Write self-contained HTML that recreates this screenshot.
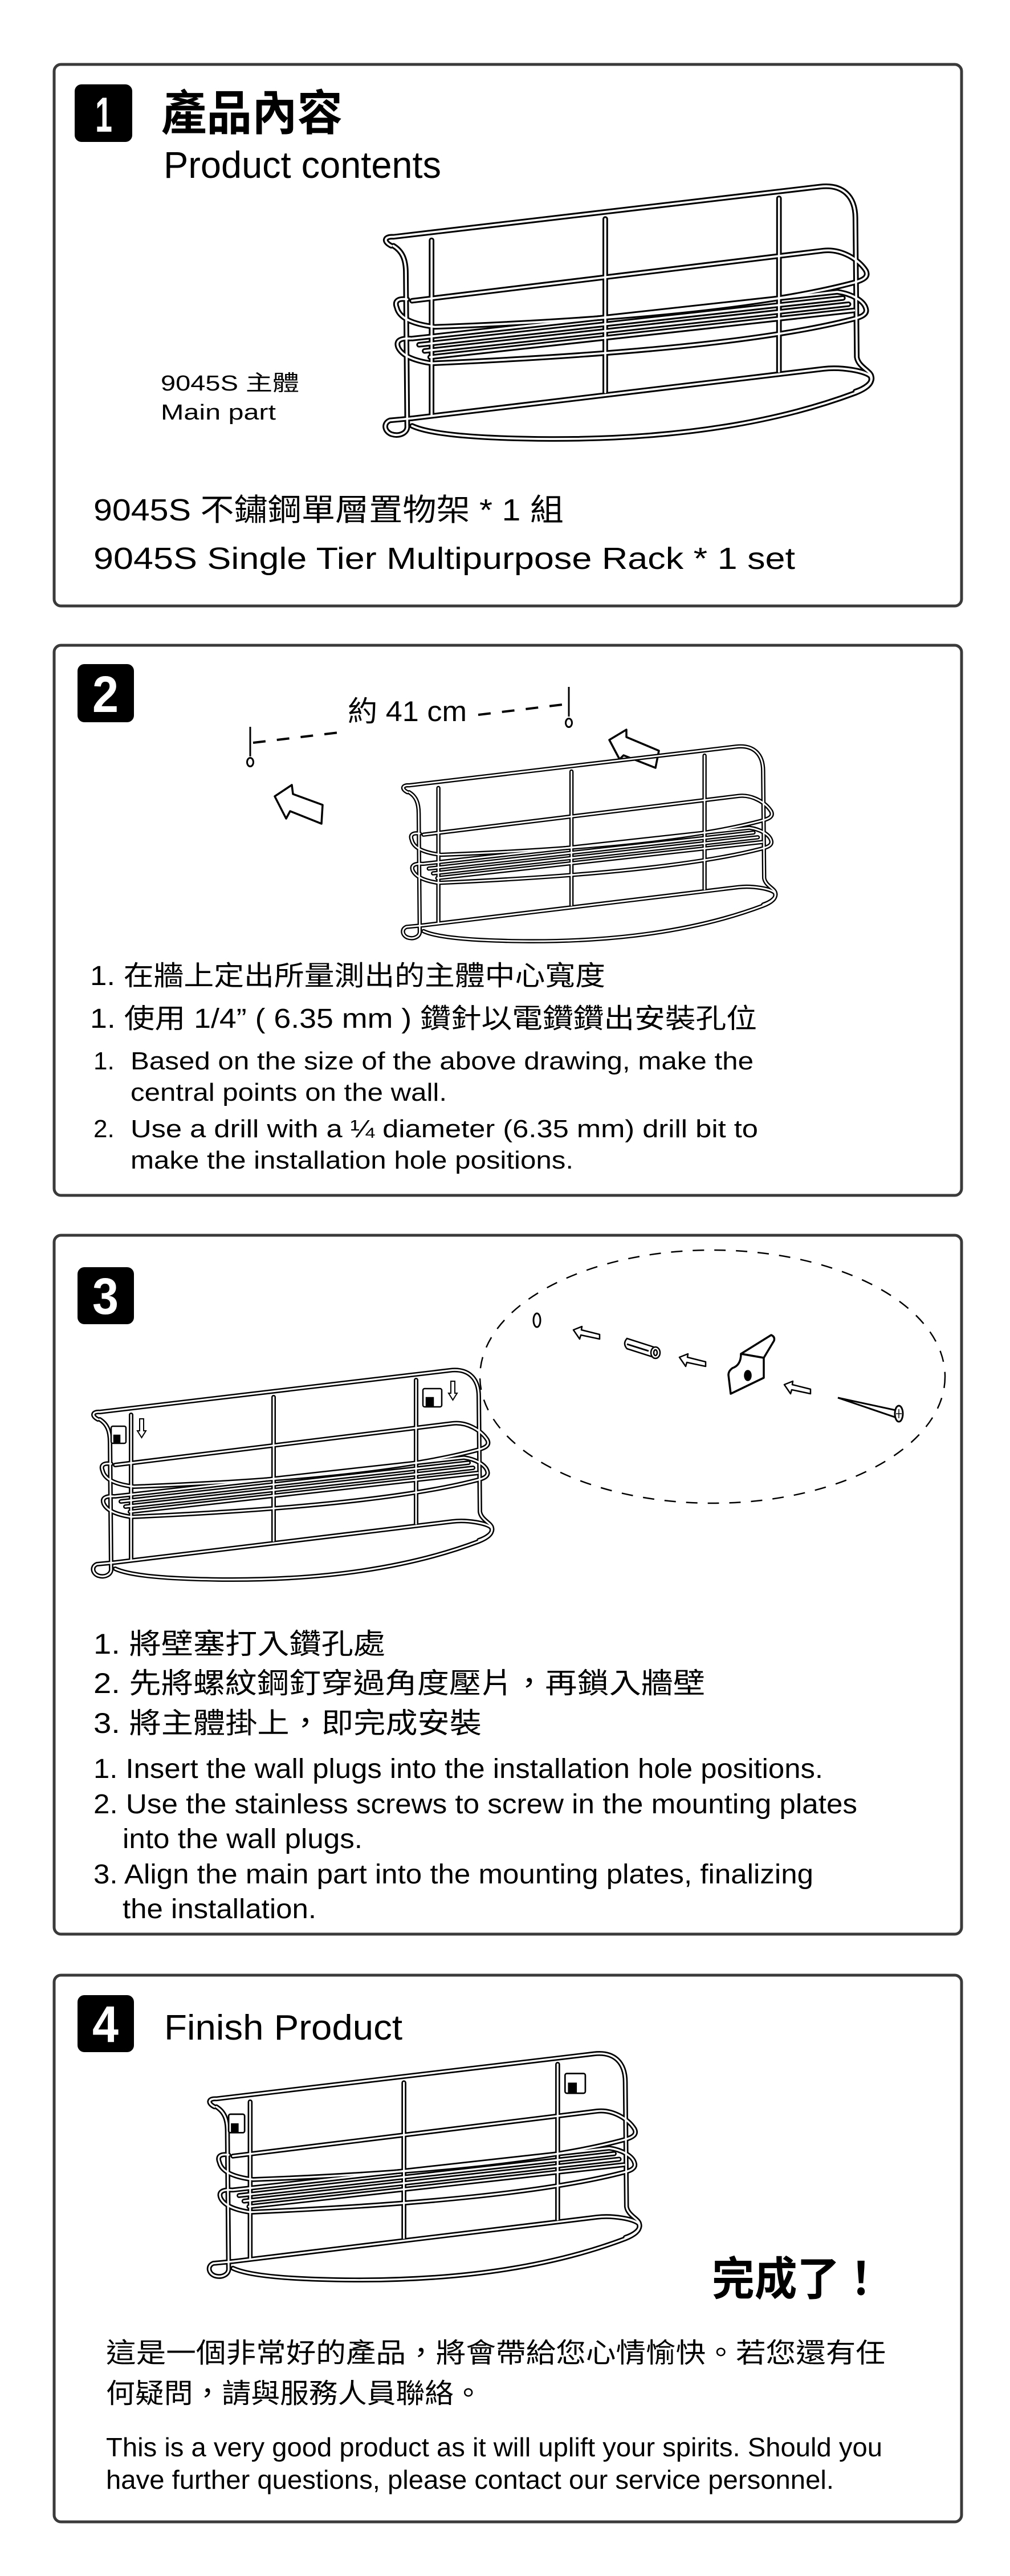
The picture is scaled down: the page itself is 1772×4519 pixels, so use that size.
<!DOCTYPE html>
<html><head><meta charset="utf-8"><style>
html,body{margin:0;padding:0;background:#fff}
svg{display:block}
text{font-family:"Liberation Sans","Noto Sans CJK TC",sans-serif;fill:#000}
.cjk{font-family:"Liberation Sans","Noto Sans CJK TC",sans-serif}
</style></head><body>
<svg width="1772" height="4519" viewBox="0 0 1772 4519" xmlns="http://www.w3.org/2000/svg">
<defs>
<g id="rackpaths">
  <path d="M72,110 C60,104 62,96 75,97 L689,24 C722,20 740,38 740,70 L742,272 C744,286 762,292 763,300 C766,310 752,318 740,322"/>
  <path d="M75,110 C88,118 93,130 93,150 L95,372 C96,382 84,388 72,384 C62,380 60,368 70,364 L102,361"/>
  <path d="M130,102 L130,357 M380,71 L380,323 M630,41 L630,293"/>
  <path d="M102,190 L694,117 C720,114 745,130 755,146 C760,156 750,160 740,163 Q560,212 135,228 Q85,222 80,200 C76,190 82,186 95,188"/>
  <path d="M102,245 L714,177 C735,180 752,190 755,201 C758,210 748,214 735,217 Q560,262 130,281 Q90,275 82,258 C78,248 85,244 100,245"/>
  <path d="M112,254 L722,186 M120,263 L730,195 M128,272 L738,204"/>
  <path d="M102,361 L694,289 C720,286 755,292 762,300 C766,310 755,318 740,324 Q560,392 300,391 Q140,390 102,372"/>
</g>
<g id="rack">
  <use href="#rackpaths" fill="none" stroke="#000" stroke-width="8" stroke-linejoin="round" stroke-linecap="round"/>
  <use href="#rackpaths" fill="none" stroke="#fff" stroke-width="3" stroke-linejoin="round" stroke-linecap="round"/>
</g>
<g id="clips" fill="#fff" stroke="#000" stroke-width="2.5">
  <rect x="95" y="122" width="26" height="30" rx="3"/>
  <rect x="100" y="138" width="10" height="12" fill="#000"/>
  <rect x="642" y="56" width="33" height="32" rx="3"/>
  <rect x="648" y="72" width="12" height="14" fill="#000"/>
</g>
<path id="sarrow" d="M0,6 L15,0 L14,6 L46,14 L46,22 L13,15 L11,22 Z" fill="#fff" stroke="#000" stroke-width="2.5" stroke-linejoin="round"/>
</defs>

<g fill="none" stroke="#3a3a3a" stroke-width="5">
  <rect x="95" y="113" width="1592" height="950" rx="12"/>
  <rect x="95" y="1132" width="1592" height="965" rx="12"/>
  <rect x="95" y="2167" width="1592" height="1226" rx="12"/>
  <rect x="95" y="3465" width="1592" height="959" rx="12"/>
</g>

<!-- badges -->
<g fill="#000">
  <rect x="131" y="148" width="101" height="101" rx="12"/>
  <rect x="136" y="1165" width="99" height="102" rx="12"/>
  <rect x="136" y="2223" width="99" height="100" rx="12"/>
  <rect x="136" y="3500" width="99" height="100" rx="12"/>
</g>
<g font-weight="bold" text-anchor="middle" style="fill:#fff">
  <text x="182" y="231" font-size="86" textLength="30" lengthAdjust="spacingAndGlyphs" style="fill:#fff">1</text>
  <text x="185" y="1249" font-size="90" textLength="46" lengthAdjust="spacingAndGlyphs" style="fill:#fff">2</text>
  <text x="185" y="2305" font-size="90" textLength="46" lengthAdjust="spacingAndGlyphs" style="fill:#fff">3</text>
  <text x="185" y="3582" font-size="90" textLength="46" lengthAdjust="spacingAndGlyphs" style="fill:#fff">4</text>
</g>

<!-- BOX 1 -->
<text x="283" y="228" font-size="84" font-weight="bold" textLength="318" lengthAdjust="spacingAndGlyphs">產品內容</text>
<text x="287" y="312" font-size="66" textLength="487" lengthAdjust="spacingAndGlyphs">Product contents</text>
<use href="#rack" transform="translate(598.7,298.5) scale(1.219,1.206)"/>
<text x="282" y="685" font-size="38" textLength="243" lengthAdjust="spacingAndGlyphs">9045S 主體</text>
<text x="282" y="736" font-size="38" textLength="202" lengthAdjust="spacingAndGlyphs">Main part</text>
<text x="164" y="913" font-size="54" textLength="825" lengthAdjust="spacingAndGlyphs">9045S 不鏽鋼單層置物架 * 1 組</text>
<text x="164" y="998" font-size="54" textLength="1231" lengthAdjust="spacingAndGlyphs">9045S  Single Tier Multipurpose Rack * 1 set</text>

<!-- BOX 2 -->
<g stroke="#000" stroke-width="3" fill="none">
  <line x1="439" y1="1275" x2="439" y2="1327"/>
  <ellipse cx="439" cy="1337" rx="5.5" ry="7.5"/>
  <line x1="998" y1="1205" x2="998" y2="1257"/>
  <ellipse cx="998" cy="1268" rx="5.5" ry="7.5"/>
</g>
<g stroke="#000" stroke-width="4" fill="none" stroke-dasharray="22,20">
  <line x1="444" y1="1303" x2="594" y2="1285"/>
  <line x1="839" y1="1254" x2="995" y2="1235"/>
</g>
<text x="610" y="1265" font-size="50" textLength="209" lengthAdjust="spacingAndGlyphs">約 41 cm</text>
<g fill="#fff" stroke="#000" stroke-width="3.5" stroke-linejoin="round">
  <polygon points="482,1397 512,1377 514,1393 566,1412 564,1445 509,1423 502,1436"/>
  <polygon points="1069,1298 1099,1280 1099,1293 1156,1317 1150,1347 1094,1325 1087,1332"/>
</g>
<use href="#rack" transform="translate(647.7,1287.5) scale(0.934,0.93)"/>
<text x="158" y="1728" font-size="48" textLength="904" lengthAdjust="spacingAndGlyphs">1. 在牆上定出所量測出的主體中心寬度</text>
<text x="158" y="1803" font-size="48" textLength="1170" lengthAdjust="spacingAndGlyphs">1. 使用 1/4” ( 6.35 mm ) 鑽針以電鑽鑽出安裝孔位</text>
<text x="164" y="1876" font-size="44">1.</text>
<text x="229" y="1876" font-size="44" textLength="1093" lengthAdjust="spacingAndGlyphs">Based on the size of the above drawing, make the</text>
<text x="229" y="1931" font-size="44" textLength="555" lengthAdjust="spacingAndGlyphs">central points on the wall.</text>
<text x="164" y="1995" font-size="44">2.</text>
<text x="229" y="1995" font-size="44" textLength="1101" lengthAdjust="spacingAndGlyphs">Use a drill with a ¼   diameter (6.35 mm) drill bit to</text>
<text x="229" y="2050" font-size="44" textLength="777" lengthAdjust="spacingAndGlyphs">make the installation hole positions.</text>

<!-- BOX 3 -->
<ellipse cx="1250" cy="2415" rx="408" ry="222" fill="none" stroke="#000" stroke-width="2.5" stroke-dasharray="20,18"/>
<ellipse cx="942" cy="2316" rx="6" ry="12" fill="none" stroke="#000" stroke-width="3"/>
<use href="#sarrow" transform="translate(1006,2327)"/>
<use href="#sarrow" transform="translate(1192,2375)"/>
<use href="#sarrow" transform="translate(1376,2423)"/>
<g stroke="#000" stroke-width="2.5" fill="#fff">
  <path d="M1100,2348 L1150,2364 L1150,2382 L1100,2366 Q1092,2357 1100,2348 Z"/>
  <ellipse cx="1150" cy="2373" rx="8" ry="10"/>
  <ellipse cx="1150" cy="2373" rx="3" ry="5"/>
  <line x1="1100" y1="2358" x2="1138" y2="2370" stroke-width="3"/>
</g>
<g stroke="#000" stroke-width="3.5" fill="#fff" stroke-linejoin="round">
  <path d="M1300,2375 L1353,2342 Q1360,2345 1358,2352 L1340,2382 Z"/>
  <path d="M1300,2375 Q1300,2395 1285,2400 Q1278,2405 1278,2412 L1282,2445 L1340,2417 L1340,2382 Z"/>
  <ellipse cx="1312" cy="2413" rx="5" ry="8" fill="#000"/>
</g>
<g stroke="#000" fill="none">
  <path d="M1470,2452 L1572,2474 L1570,2486 Z" stroke-width="3" fill="#fff"/>
  <ellipse cx="1577" cy="2480" rx="7" ry="14" stroke-width="3" fill="#fff"/>
  <path d="M1577,2472 L1577,2488 M1572,2480 L1582,2480" stroke-width="1.5"/>
</g>
<use href="#rack" transform="translate(100,2380)"/>
<use href="#clips" transform="translate(100,2380)"/>
<g fill="#fff" stroke="#000" stroke-width="2">
  <path d="M245,2489 L252,2489 L252,2510 L256,2510 L248.5,2522 L241,2510 L245,2510 Z"/>
  <path d="M791,2423 L798,2423 L798,2444 L802,2444 L794.5,2456 L787,2444 L791,2444 Z"/>
</g>
<text x="164" y="2901" font-size="50" textLength="512" lengthAdjust="spacingAndGlyphs">1. 將壁塞打入鑽孔處</text>
<text x="164" y="2970" font-size="50" textLength="1073" lengthAdjust="spacingAndGlyphs">2. 先將螺紋鋼釘穿過角度壓片，再鎖入牆壁</text>
<text x="164" y="3040" font-size="50" textLength="681" lengthAdjust="spacingAndGlyphs">3. 將主體掛上，即完成安裝</text>
<text x="164" y="3119" font-size="48" textLength="1280" lengthAdjust="spacingAndGlyphs">1. Insert the wall plugs into the installation hole positions.</text>
<text x="164" y="3181" font-size="48" textLength="1340" lengthAdjust="spacingAndGlyphs">2. Use the stainless screws to screw in the mounting plates</text>
<text x="215" y="3242" font-size="48" textLength="421" lengthAdjust="spacingAndGlyphs">into the wall plugs.</text>
<text x="164" y="3304" font-size="48" textLength="1263" lengthAdjust="spacingAndGlyphs">3. Align the main part into the mounting plates, finalizing</text>
<text x="215" y="3365" font-size="48" textLength="340" lengthAdjust="spacingAndGlyphs">the installation.</text>

<!-- BOX 4 -->
<text x="288" y="3578" font-size="62" textLength="418" lengthAdjust="spacingAndGlyphs">Finish Product</text>
<use href="#rack" transform="translate(298.6,3577) scale(1.079,1.081)"/>
<use href="#clips" transform="translate(298.6,3577) scale(1.079,1.081)"/>
<text x="1249" y="4026" font-size="80" font-weight="bold" textLength="299" lengthAdjust="spacingAndGlyphs">完成了！</text>
<text x="186" y="4144" font-size="48" textLength="1368" lengthAdjust="spacingAndGlyphs">這是一個非常好的產品，將會帶給您心情愉快。若您還有任</text>
<text x="186" y="4215" font-size="48" textLength="661" lengthAdjust="spacingAndGlyphs">何疑問，請與服務人員聯絡。</text>
<text x="186" y="4309" font-size="46" textLength="1362" lengthAdjust="spacingAndGlyphs">This is a very good product as it will uplift your spirits. Should you</text>
<text x="186" y="4366" font-size="46" textLength="1277" lengthAdjust="spacingAndGlyphs">have further questions, please contact our service personnel.</text>
</svg>
</body></html>
